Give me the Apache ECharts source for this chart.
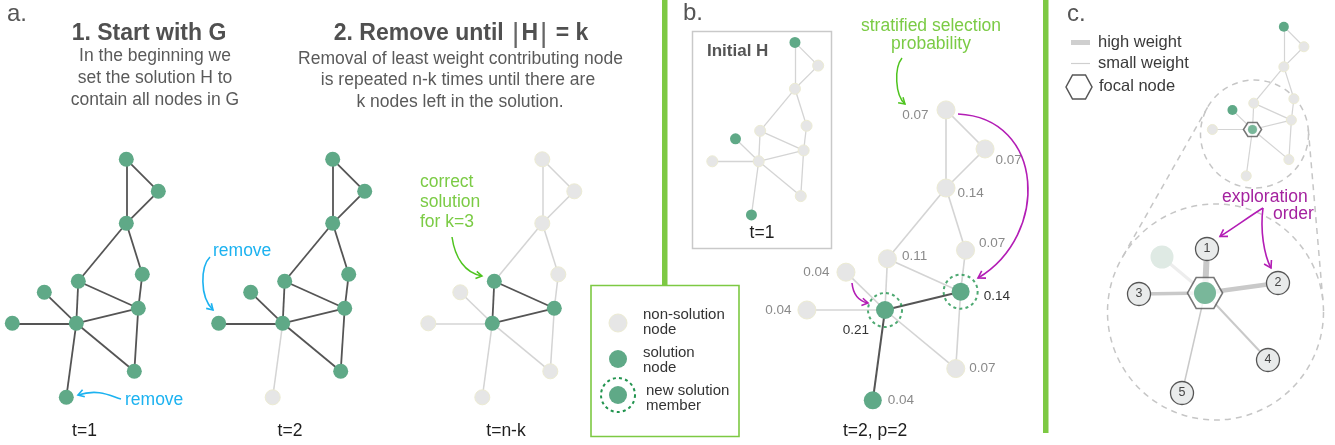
<!DOCTYPE html>
<html><head><meta charset="utf-8">
<script src="https://cdn.jsdelivr.net/npm/echarts@6/dist/echarts.min.js"></script>
<style>html,body{margin:0;padding:0;background:#fff}#c{width:1335px;height:445px}</style>
</head><body><div id="c"></div>
<script>
// ---------- DATA ----------
const nodeNames = ['A','B','C','D','E','F','G','H','I','J','K'];
const nodeX = [50, 82, 50, 2, 66, -32, 62, 0, -64, 58, -10];
const nodeY = [-164, -132, -100, -42, -49, -31, -15, 0, 0, 48, 74];
const edgeFrom = ['A','A','B','C','C','D','D','E','H','F','I','H','G','H'];
const edgeTo   = ['B','C','C','D','E','H','G','G','G','H','H','J','J','K'];
const solT1   = ['A','B','C','D','E','F','G','H','I','J','K'];
const solT2   = ['A','B','C','D','E','F','G','H','I','J'];
const solTnk  = ['D','G','H'];
const solInit = ['A','F','K'];
const solB    = ['G','H','K'];
const newB    = ['G','H'];
const probB   = [0.07, 0.07, 0.14, 0.11, 0.07, 0.04, 0.14, 0.21, 0.04, 0.07, 0.04];
const solC    = ['A','F','H'];
const focalC  = ['H'];
const starNames  = ['focal','1','2','3','4','5','faded'];
const starX      = [0, 2, 73, -66, 63, -23, -43];
const starY      = [0, -44, -10, 1, 67, 100, -36];
const starWeight = [0, 6, 4.5, 3.5, 2, 1.5, 3];

// ---------- STYLE ----------
const FONT = '"Liberation Sans", Arial, Helvetica, sans-serif';
const C = {green:'#5fa987', gray:'#e6e6e6', grayBorder:'#ecebd3', dark:'#555555', light:'#d4d4d4',
  text:'#525252', bar:'#7dc943', blue:'#1cb2f0', agreen:'#7bcb45', agreenArrow:'#4fc41f',
  purple:'#b31db5', ptext:'#a4229f', newRing:'#22944f'};

const grids=[], xAxes=[], yAxes=[], series=[];
function addGrid(hub, s, xr, yr){
  const i = grids.length;
  grids.push({left:hub[0]+xr[0]*s, top:hub[1]+yr[0]*s, width:(xr[1]-xr[0])*s, height:(yr[1]-yr[0])*s, containLabel:false, show:false});
  xAxes.push({type:'value', gridIndex:i, min:xr[0], max:xr[1], show:false});
  yAxes.push({type:'value', gridIndex:i, min:yr[0], max:yr[1], inverse:true, show:false});
  return i;
}
const XR=[-75,95], YR=[-180,110];

const panels = [
  {hub:[76.3,323.3], s:1,     sol:solT1,   size:15, dark:true,  lw:1.5, dw:1.8},
  {hub:[282.7,323.3], s:1,    sol:solT2,   size:15, dark:true,  lw:1.5, dw:1.8},
  {hub:[492.3,323.3], s:1,    sol:solTnk,  size:15, dark:true,  lw:1.5, dw:1.8},
  {hub:[758.7,161.3], s:0.725,sol:solInit, size:11, dark:false, lw:1.3, dw:1.3},
  {hub:[885,310],     s:1.22, sol:solB,    size:18, dark:true,  lw:1.6, dw:2, probs:true},
  {hub:[1252.5,129.5],s:0.627,sol:solC,    size:10, dark:false, lw:1.2, dw:1.2}
];

// label placement for probability labels (panel b)
const probPos = {
  A:{position:'left',distance:8,offset:[0,5]},
  B:{position:'right',distance:1,offset:[0,11]},
  C:{position:'right',distance:2,offset:[0,5]},
  D:{position:'right',distance:5,offset:[0,-2]},
  E:{position:'right',distance:4,offset:[0,-7]},
  F:{position:'left',distance:7,offset:[0,0]},
  G:{position:'right',distance:14,offset:[0,5]},
  H:{position:'left',distance:7,offset:[0,20]},
  I:{position:'left',distance:6,offset:[0,0]},
  J:{position:'right',distance:4,offset:[0,0]},
  K:{position:'right',distance:6,offset:[0,0]}
};
const darkLabel = new Set(newB);

const gridIdx = panels.map(p => addGrid(p.hub, p.s, XR, YR));
panels.forEach((p, k) => {
  const gi = gridIdx[k];
  const sol = new Set(p.sol);
  series.push({
    type:'graph', layout:'none', coordinateSystem:'cartesian2d', xAxisIndex:gi, yAxisIndex:gi,
    symbolSize:p.size, z:2, silent:true, animation:false, edgeSymbol:['none','none'],
    data: nodeNames.map((n,i) => {
      const d = {name:n, value:[nodeX[i], nodeY[i]],
        itemStyle: sol.has(n) ? {color:C.green, borderWidth:0} : {color:C.gray, borderColor:C.grayBorder, borderWidth:1}};
      if (p.probs) {
        d.label = Object.assign({show:true, formatter: probB[i].toFixed(2), fontSize:13.5, fontFamily:FONT,
          color: darkLabel.has(n) ? '#333' : '#8a8a8a'}, probPos[n]);
      }
      return d;
    }),
    links: edgeFrom.map((a,i) => {
      const b = edgeTo[i];
      const dk = p.dark && sol.has(a) && sol.has(b);
      return {source:a, target:b, lineStyle:{color: dk ? C.dark : C.light, width: dk ? p.dw : p.lw, opacity:1, curveness:0}};
    }),
    lineStyle:{opacity:1}
  });
});

// new solution rings (panel b)
const gB = gridIdx[4];
series.push({type:'scatter', xAxisIndex:gB, yAxisIndex:gB, z:3, silent:true, animation:false,
  symbol:'circle', symbolSize:34,
  itemStyle:{color:'rgba(0,0,0,0)', borderColor:C.newRing, borderWidth:2, borderType:[3,3.2]},
  data: newB.map(n => { const i=nodeNames.indexOf(n); return [nodeX[i], nodeY[i]]; })});

// focal hexagon (panel c small)
const HEX = 'path://M0,50 L25,3 L75,3 L100,50 L75,97 L25,97 Z';
const gC = gridIdx[5];
series.push({type:'scatter', xAxisIndex:gC, yAxisIndex:gC, z:3, silent:true, animation:false,
  symbol:HEX, symbolSize:[18,14], symbolKeepAspect:false,
  itemStyle:{color:'#fff', borderColor:'#555', borderWidth:1.5},
  data: focalC.map(n => { const i=nodeNames.indexOf(n); return [nodeX[i], nodeY[i]]; })});
series.push({type:'scatter', xAxisIndex:gC, yAxisIndex:gC, z:4, silent:true, animation:false,
  symbolSize:9, itemStyle:{color:C.green},
  data: focalC.map(n => { const i=nodeNames.indexOf(n); return [nodeX[i], nodeY[i]]; })});

// star (panel c zoomed)
const gS = addGrid([1205,293], 1, [-100,100], [-100,130]);
series.push({
  type:'graph', layout:'none', coordinateSystem:'cartesian2d', xAxisIndex:gS, yAxisIndex:gS,
  z:2, silent:true, animation:false, edgeSymbol:['none','none'],
  data: starNames.map((n,i) => {
    let itemStyle, size, label;
    if (n === 'focal') { itemStyle={color:C.green}; size=22; }
    else if (n === 'faded') { itemStyle={color:'#dfeae4'}; size=23; }
    else { itemStyle={color:'#e9ebeb', borderColor:'#555', borderWidth:1.3}; size=23;
      label={show:true, position:'inside', formatter:n, fontSize:12.5, fontFamily:FONT, color:'#444'}; }
    return {name:n, value:[starX[i], starY[i]], symbolSize:size, itemStyle, label};
  }),
  links: starNames.slice(1).map((n,j) => ({source:'focal', target:n,
    lineStyle:{color: n==='faded' ? '#ededed' : '#c9c9c9', width: starWeight[j+1], opacity:1}}))
});
series.push({type:'scatter', xAxisIndex:gS, yAxisIndex:gS, z:3, silent:true, animation:false,
  symbol:HEX, symbolSize:[35,31], symbolKeepAspect:false,
  itemStyle:{color:'#fff', borderColor:'#555', borderWidth:1.6},
  data:[[starX[0], starY[0]]]});
series.push({type:'scatter', xAxisIndex:gS, yAxisIndex:gS, z:4, silent:true, animation:false,
  symbolSize:22, itemStyle:{color:C.green}, data:[[starX[0], starY[0]]]});

// ---------- ANNOTATIONS ----------
const G = [];
function txt(x, y, text, o){
  o = o || {};
  G.push({type:'text', x, y, z:o.z||10, silent:true, style:Object.assign({text, fontFamily:FONT, fontSize:o.size||17.5,
    fontWeight:o.bold?'bold':'normal', fill:o.color||C.text, align:o.align||'left', verticalAlign:'middle'}, o.extra||{})});
}
function arrow(p, color, w, head){
  head = head || 7;
  const [x1,y1,a,b,c,d,x2,y2] = p;
  let dx=x2-c, dy=y2-d; const L=Math.hypot(dx,dy); dx/=L; dy/=L;
  const ang=0.55, cs=Math.cos(ang), sn=Math.sin(ang);
  const h1=[x2-head*(dx*cs-dy*sn), y2-head*(dx*sn+dy*cs)];
  const h2=[x2-head*(dx*cs+dy*sn), y2-head*(-dx*sn+dy*cs)];
  G.push({type:'bezierCurve', z:10, silent:true, shape:{x1,y1,cpx1:a,cpy1:b,cpx2:c,cpy2:d,x2,y2}, style:{stroke:color,lineWidth:w,fill:null}});
  G.push({type:'polyline', z:10, silent:true, shape:{points:[h1,[x2,y2],h2]}, style:{stroke:color,lineWidth:w,fill:null}});
}

// panel letters
txt(7, 14, 'a.', {size:24, color:'#555'});
txt(683, 13, 'b.', {size:24, color:'#555'});
txt(1067, 14, 'c.', {size:24, color:'#555'});

// panel a titles
txt(149, 34, '1. Start with G', {size:23, bold:true, align:'center', color:'#505050'});
txt(155, 56.5, 'In the beginning we', {align:'center', color:'#5a5a5a'});
txt(155, 78.5, 'set the solution H to', {align:'center', color:'#5a5a5a'});
txt(155, 100.5, 'contain all nodes in G', {align:'center', color:'#5a5a5a'});
G.push({type:'text', x:461, y:34, z:10, silent:true, style:{
  text:'{b|2. Remove until }{v||}{b|H}{v||}{b| = k}', align:'center', verticalAlign:'middle',
  rich:{b:{fontFamily:FONT, fontSize:23, fontWeight:'bold', fill:'#505050', color:'#505050'},
        v:{fontFamily:FONT, fontSize:28, fontWeight:'normal', fill:'#666', color:'#666', padding:[0,2,0,2]}}}});
txt(460.5, 59, 'Removal of least weight contributing node', {align:'center', color:'#5a5a5a'});
txt(458, 80.5, 'is repeated n-k times until there are', {align:'center', color:'#5a5a5a'});
txt(460, 102, 'k nodes left in the solution.', {align:'center', color:'#5a5a5a'});

// t labels
txt(84.5, 431, 't=1', {align:'center', color:'#1e1e1e'});
txt(290, 431, 't=2', {align:'center', color:'#1e1e1e'});
txt(506, 431, 't=n-k', {align:'center', color:'#1e1e1e'});
txt(875, 431, 't=2, p=2', {align:'center', color:'#1e1e1e'});

// remove annotations
txt(125, 400, 'remove', {color:C.blue});
arrow([121,399, 112,397, 100,388, 78,395], C.blue, 1.6, 7);
txt(213, 251, 'remove', {color:C.blue});
arrow([210,257, 201,266, 199,296, 213,310], C.blue, 1.6, 7);

// correct solution
txt(420, 182, 'correct', {color:C.agreen});
txt(420, 202, 'solution', {color:C.agreen});
txt(420, 222, 'for k=3', {color:C.agreen});
arrow([452,237, 455,258, 465,273, 482,276], C.agreenArrow, 1.5, 7);

// green bar + legend box
G.push({type:'rect', z:5, silent:true, shape:{x:662, y:0, width:5.5, height:285}, style:{fill:C.bar}});
G.push({type:'rect', z:5, silent:true, shape:{x:591, y:285.5, width:148, height:151}, style:{fill:null, stroke:C.bar, lineWidth:1.6}});
G.push({type:'circle', z:6, silent:true, shape:{cx:618, cy:323, r:9}, style:{fill:C.gray, stroke:C.grayBorder, lineWidth:1}});
G.push({type:'circle', z:6, silent:true, shape:{cx:618, cy:359, r:9}, style:{fill:C.green}});
G.push({type:'circle', z:6, silent:true, shape:{cx:618, cy:395, r:9}, style:{fill:C.green}});
G.push({type:'circle', z:6, silent:true, shape:{cx:618, cy:395, r:17}, style:{fill:null, stroke:C.newRing, lineWidth:2, lineDash:[3,3.2]}});
txt(643, 315, 'non-solution', {size:15, color:'#333'});
txt(643, 330, 'node', {size:15, color:'#333'});
txt(643, 353, 'solution', {size:15, color:'#333'});
txt(643, 368, 'node', {size:15, color:'#333'});
txt(646, 391, 'new solution', {size:15, color:'#333'});
txt(646, 406, 'member', {size:15, color:'#333'});

// panel b
G.push({type:'rect', z:1, silent:true, shape:{x:692.5, y:31.5, width:139, height:217}, style:{fill:null, stroke:'#c9c9c9', lineWidth:1.5}});
txt(707, 51, 'Initial H', {size:17, bold:true, color:'#555'});
txt(762, 233, 't=1', {align:'center', color:'#1e1e1e'});
txt(931, 26, 'stratified selection', {align:'center', color:C.agreen});
txt(931, 44, 'probability', {align:'center', color:C.agreen});
arrow([902,58, 894,68, 895,95, 905,104], C.agreenArrow, 1.5, 7);
arrow([958,114, 1045,118, 1050,235, 978,278], C.purple, 1.6, 8);
arrow([852,283, 853,293, 858,301, 868,303], C.purple, 1.6, 7);

// panel c
G.push({type:'rect', z:5, silent:true, shape:{x:1043, y:0, width:5.5, height:433}, style:{fill:C.bar}});
G.push({type:'line', z:6, silent:true, shape:{x1:1071, y1:42.5, x2:1090, y2:42.5}, style:{stroke:'#cfcfcf', lineWidth:5}});
G.push({type:'line', z:6, silent:true, shape:{x1:1071, y1:63.5, x2:1090, y2:63.5}, style:{stroke:'#cfcfcf', lineWidth:1.2}});
(function(){
  const cx=1079, cy=87, w=26, h=24;
  G.push({type:'polygon', z:6, silent:true, shape:{points:[[cx-w/2,cy],[cx-w/4,cy-h/2],[cx+w/4,cy-h/2],[cx+w/2,cy],[cx+w/4,cy+h/2],[cx-w/4,cy+h/2]]},
    style:{fill:null, stroke:'#555', lineWidth:1.5}});
})();
txt(1098, 42, 'high weight', {size:16.5, color:'#3a3a3a'});
txt(1098, 63, 'small weight', {size:16.5, color:'#3a3a3a'});
txt(1099, 86, 'focal node', {size:16.5, color:'#3a3a3a'});

// zoom circles + tangents
(function(){
  const c1=[1254.5,134], r1=54, c2=[1215.5,312], r2=108;
  const st = {fill:null, stroke:'#c6c6c6', lineWidth:1.5, lineDash:[6,5]};
  G.push({type:'circle', z:0, silent:true, shape:{cx:c1[0], cy:c1[1], r:r1}, style:st});
  G.push({type:'circle', z:0, silent:true, shape:{cx:c2[0], cy:c2[1], r:r2}, style:st});
  const dx=c2[0]-c1[0], dy=c2[1]-c1[1], L=Math.hypot(dx,dy), th=Math.atan2(dy,dx), ph=Math.acos((r1-r2)/L);
  [th+ph, th-ph].forEach(a => {
    const n=[Math.cos(a), Math.sin(a)];
    G.push({type:'line', z:0, silent:true, shape:{x1:c1[0]+r1*n[0], y1:c1[1]+r1*n[1], x2:c2[0]+r2*n[0], y2:c2[1]+r2*n[1]}, style:st});
  });
})();
txt(1222, 197, 'exploration', {color:C.ptext});
txt(1273, 214, 'order', {color:C.ptext});
arrow([1263,208, 1250,216, 1235,227, 1220,236.5], C.purple, 1.6, 8);
arrow([1263,208, 1260,230, 1264,255, 1271,268], C.purple, 1.6, 8);

const chart = echarts.init(document.getElementById('c'), null, {renderer:'canvas', width:1335, height:445});
chart.setOption({
  backgroundColor:'#ffffff',
  animation:false,
  grid:grids, xAxis:xAxes, yAxis:yAxes,
  series:series,
  graphic:{elements:G}
});
</script>
</body></html>
